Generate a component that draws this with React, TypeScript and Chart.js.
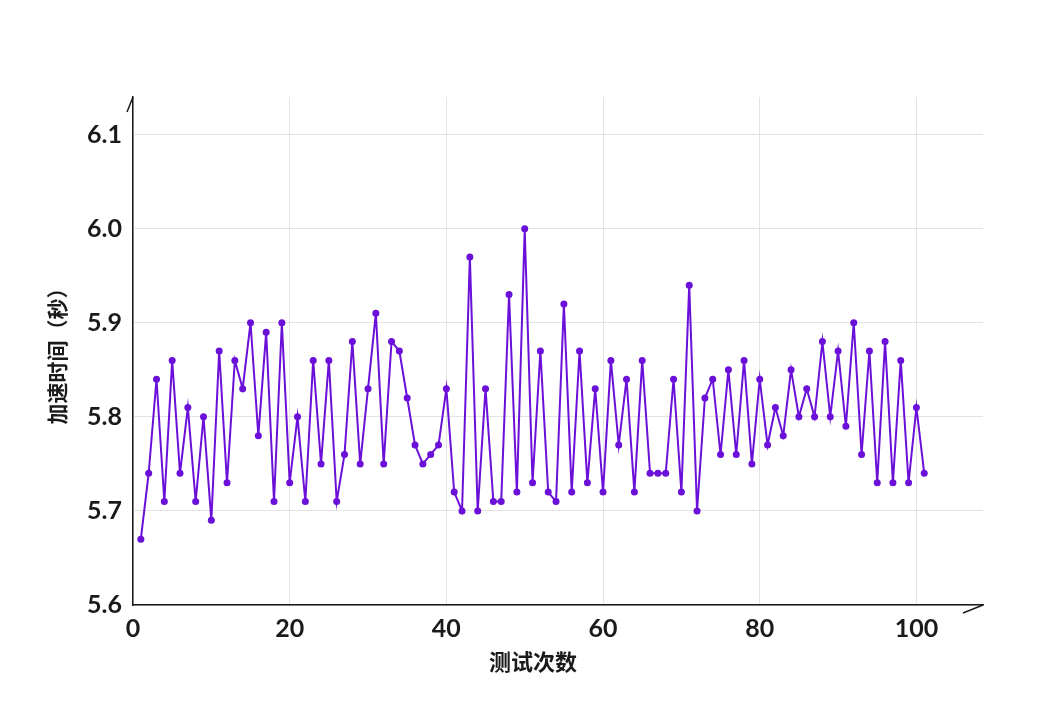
import React, { useEffect, useRef } from "react";
import { Chart, registerables } from "chart.js";

Chart.register(...registerables);

const trialNumbers: number[] = Array.from({ length: 101 }, (_, i) => i + 1);

const accelTimes: number[] = [
  5.67, 5.74, 5.84, 5.71, 5.86, 5.74, 5.81, 5.71, 5.80, 5.69,
  5.87, 5.73, 5.86, 5.83, 5.90, 5.78, 5.89, 5.71, 5.90, 5.73,
  5.80, 5.71, 5.86, 5.75, 5.86, 5.71, 5.76, 5.88, 5.75, 5.83,
  5.91, 5.75, 5.88, 5.87, 5.82, 5.77, 5.75, 5.76, 5.77, 5.83,
  5.72, 5.70, 5.97, 5.70, 5.83, 5.71, 5.71, 5.93, 5.72, 6.00,
  5.73, 5.87, 5.72, 5.71, 5.92, 5.72, 5.87, 5.73, 5.83, 5.72,
  5.86, 5.77, 5.84, 5.72, 5.86, 5.74, 5.74, 5.74, 5.84, 5.72,
  5.94, 5.70, 5.82, 5.84, 5.76, 5.85, 5.76, 5.86, 5.75, 5.84,
  5.77, 5.81, 5.78, 5.85, 5.80, 5.83, 5.80, 5.88, 5.80, 5.87,
  5.79, 5.90, 5.76, 5.87, 5.73, 5.88, 5.73, 5.86, 5.73, 5.81,
  5.74,
];

const xTitle = "测试次数";
const yTitle = "加速时间（秒）";

const X_MIN = 0;
const X_MAX = 108.5;
const Y_MIN = 5.6;
const Y_MAX = 6.14;

const LINE_COLOR = "#6a10d8";
const TICK_FONT = "Lato, 'Noto Sans CJK SC', sans-serif";
const CJK_FONT = "'Noto Sans CJK SC', 'Noto Sans', sans-serif";

const decorPlugin = {
  id: "decor",
  afterDraw(chart: any) {
    const { ctx, chartArea } = chart;
    const { left, top, right, bottom } = chartArea;
    ctx.save();
    // axis arrow heads
    ctx.strokeStyle = "#1a1a1a";
    ctx.lineWidth = 1.5;
    ctx.beginPath();
    ctx.moveTo(left - 6, top + 15);
    ctx.lineTo(left, top);
    ctx.stroke();
    ctx.beginPath();
    ctx.moveTo(right - 20, bottom + 8);
    ctx.lineTo(right, bottom);
    ctx.stroke();
    // x axis title
    ctx.fillStyle = "#1a1a1a";
    ctx.font = `bold 22px ${CJK_FONT}`;
    ctx.textAlign = "center";
    ctx.textBaseline = "middle";
    ctx.fillText(xTitle, 533, 662);
    ctx.restore();
  },
};

export default function App() {
  const canvasRef = useRef<HTMLCanvasElement | null>(null);

  useEffect(() => {
    if (!canvasRef.current) return;
    const chart = new Chart(canvasRef.current, {
      type: "line",
      data: {
        datasets: [
          {
            data: trialNumbers.map((x, i) => ({ x, y: accelTimes[i] })),
            borderColor: LINE_COLOR,
            backgroundColor: LINE_COLOR,
            borderWidth: 2,
            pointRadius: 3.5,
            pointHoverRadius: 3.5,
            pointBorderWidth: 0,
            tension: 0,
          },
        ],
      },
      plugins: [decorPlugin],
      options: {
        animation: false,
        responsive: true,
        maintainAspectRatio: false,
        layout: { padding: { top: 97, right: 72, left: 0, bottom: 0 } },
        plugins: {
          legend: { display: false },
          tooltip: { enabled: false },
        },
        scales: {
          x: {
            type: "linear",
            min: X_MIN,
            max: X_MAX,
            afterFit: (scale: any) => {
              scale.height = 119;
            },
            ticks: {
              stepSize: 20,
              includeBounds: false,
              padding: 9,
              color: "#1a1a1a",
              font: { family: TICK_FONT, size: 25, weight: "bold" },
              maxRotation: 0,
            },
            grid: { color: "#e3e3e3", lineWidth: 1, drawTicks: false },
            border: { color: "#1a1a1a", width: 1.5 },
          },
          y: {
            type: "linear",
            min: Y_MIN,
            max: Y_MAX,
            afterFit: (scale: any) => {
              scale.width = 133;
            },
            ticks: {
              stepSize: 0.1,
              includeBounds: false,
              padding: 11,
              color: "#1a1a1a",
              font: { family: TICK_FONT, size: 25, weight: "bold" },
              callback: (v: any) => Number(v).toFixed(1),
            },
            grid: { color: "#e3e3e3", lineWidth: 1, drawTicks: false },
            border: { color: "#1a1a1a", width: 1.5 },
            title: {
              display: true,
              text: yTitle,
              color: "#1a1a1a",
              font: { family: CJK_FONT, size: 21, weight: "bold" },
              padding: { top: 44, bottom: 0 },
            },
          },
        },
      },
    });
    return () => chart.destroy();
  }, []);

  return (
    <div
      style={{
        position: "fixed",
        left: 0,
        top: 0,
        width: 1055,
        height: 724,
        background: "#ffffff",
      }}
    >
      <canvas ref={canvasRef} />
    </div>
  );
}
